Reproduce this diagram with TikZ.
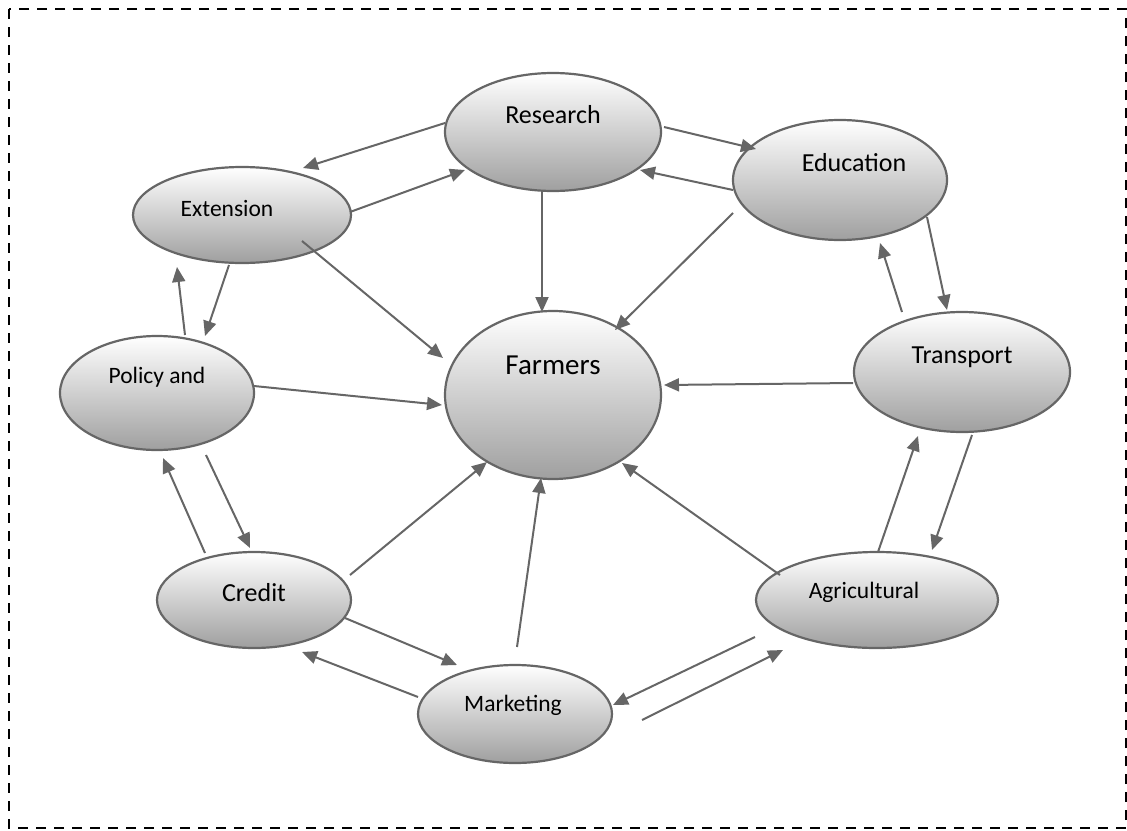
\documentclass[tikz,border=0pt]{standalone}
\usepackage{fontspec}
\setmainfont{Carlito}
\usetikzlibrary{shapes.geometric}
\usetikzlibrary{arrows.meta}
\usetikzlibrary{calc}
\definecolor{edge}{HTML}{666666}

\begin{document}
\begin{tikzpicture}[x=1pt, y=-1pt,
    oval/.style = {ellipse, draw=edge, line width=2.2pt, inner sep=0pt,
                top color=white, middle color=gray!12, bottom color=gray!75},
    arr/.style = {edge, line width=2pt, -{Triangle[length=15pt,width=13pt]}}
                    ]
        \useasboundingbox (0,0) rectangle (1127,830);
        \draw [line width=2pt, dash pattern=on 10pt off 8pt] (9,9) rectangle (1126,828);
        % ellipses: name/x/y/width/height/text shift x/text shift y/font size/text
        \foreach \n/\x/\y/\w/\h/\dx/\dy/\s/\t in {
            res/553/132/216/118/0/17/26/Research,
            edu/840/180/214/120/14/17/26/Education,
            ext/242/215/218/96/-15/7/23.5/Extension,
            far/553/395/216/168/0/30/29/Farmers,
            pol/157/393/194/114/0/16/23.5/Policy and,
            tra/962/372/216/120/0/15/26/Transport,
            cre/254/600/194/96/0/7/26/Credit,
            agr/877/600/242/96/-13/8/23.5/Agricultural,
            mkt/515/714/194/98/-2/9/23.5/Marketing}
            \node[oval, minimum width=\w pt, minimum height=\h pt,
                label={[font=\fontsize{\s}{\s}\selectfont, xshift=\dx pt, yshift=\dy pt]center:\t}]
                (\n) at (\x,\y) {};
        \draw [arr] ($(res)+(-108,-9)$) -- ($(ext)+(61,-47)$);
        \draw [arr] ($(ext)+(108,-3)$) -- ($(res)+(-88,38)$);
        \draw [arr] ($(res)+(111,-5)$) -- ($(edu)+(-84,-31)$);
        \draw [arr] ($(edu)+(-107,10)$) -- ($(res)+(87,38)$);
        \draw [arr] ($(res)+(-11,60)$) -- ($(far)+(-11,-83)$);
        \draw [arr] ($(edu)+(-107,33)$) -- ($(far)+(62,-65)$);
        \draw [arr] ($(ext)+(60,26)$) -- ($(far)+(-110,-37)$);
        \draw [arr] ($(ext)+(-13,50)$) -- ($(pol)+(48,-57)$);
        \draw [arr] ($(pol)+(28,-58)$) -- ($(ext)+(-65,52)$);
        \draw [arr] ($(pol)+(97,-7)$) -- ($(far)+(-111,10)$);
        \draw [arr] ($(pol)+(49,62)$) -- ($(cre)+(-4,-52)$);
        \draw [arr] ($(cre)+(-49,-47)$) -- ($(pol)+(6,65)$);
        \draw [arr] ($(cre)+(96,-25)$) -- ($(far)+(-66,67)$);
        \draw [arr] ($(cre)+(91,18)$) -- ($(mkt)+(-58,-49)$);
        \draw [arr] ($(mkt)+(-97,-17)$) -- ($(cre)+(48,52)$);
        \draw [arr] ($(mkt)+(2,-67)$) -- ($(far)+(-12,83)$);
        \draw [arr] ($(agr)+(-97,-25)$) -- ($(far)+(69,68)$);
        \draw [arr] ($(agr)+(-122,37)$) -- ($(mkt)+(98,-9)$);
        \draw [arr] ($(mkt)+(127,6)$) -- ($(agr)+(-94,50)$);
        \draw [arr] ($(agr)+(1,-48)$) -- ($(tra)+(-44,64)$);
        \draw [arr] ($(tra)+(10,63)$) -- ($(agr)+(55,-50)$);
        \draw [arr] ($(tra)+(-60,-60)$) -- ($(edu)+(40,63)$);
        \draw [arr] ($(edu)+(87,37)$) -- ($(tra)+(-15,-62)$);
        \draw [arr] ($(tra)+(-109,11)$) -- ($(far)+(111,-10)$);
\end{tikzpicture}
\end{document}
